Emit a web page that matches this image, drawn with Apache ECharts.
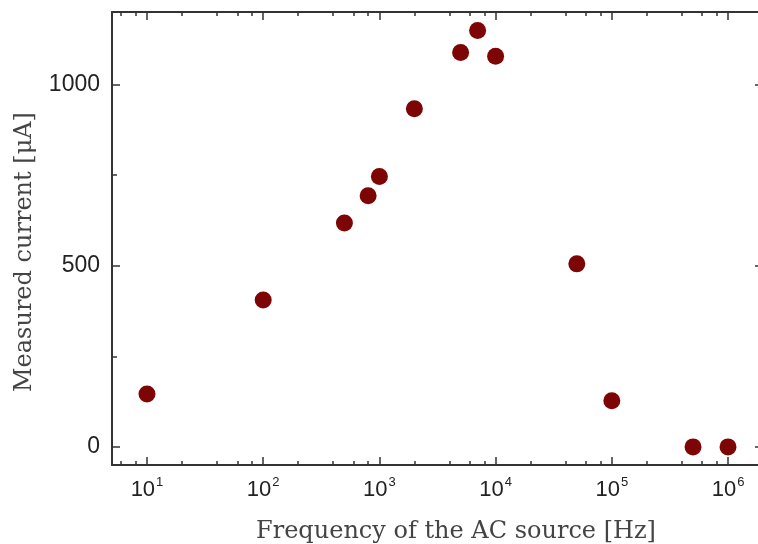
<!DOCTYPE html>
<html>
<head>
<meta charset="utf-8">
<script src="https://cdn.jsdelivr.net/npm/echarts@6/dist/echarts.min.js"></script>
<style>html,body{margin:0;padding:0;background:#fff;}#c{width:758px;height:544px;}</style>
</head>
<body>
<div id="c"></div>
<script>
// Data
var frequencyHz = [10, 100, 500, 800, 1000, 2000, 5000, 7000, 10000, 50000, 100000, 500000, 1000000];
var currentUA   = [146, 405, 618, 693, 746, 933, 1088, 1149, 1078, 505, 127, 0, 0];
var xMajorTicks = [10, 100, 1000, 10000, 100000, 1000000];
var xMinorTicks = [6, 8, 20, 40, 60, 80, 200, 400, 600, 800, 2000, 4000, 6000, 8000,
                   20000, 40000, 60000, 80000, 200000, 400000, 600000, 800000, 2000000];
var yMajorTicks = [0, 500, 1000];
var yMinorTicks = [250, 750];
var xTitle = 'Frequency of the AC source [Hz]';
var yTitle = 'Measured current [\u03bcA]';

var points = frequencyHz.map(function (f, i) { return [f, currentUA[i]]; });

var axisColor = '#333';
function xAxisDef(pos, ticks, len, withLabels) {
  var a = {
    type: 'log', logBase: 10, min: 5, max: 2000000, position: pos, gridIndex: 0,
    axisLine: { show: withLabels !== null, onZero: false, lineStyle: { color: axisColor, width: 2 } },
    axisTick: { show: true, inside: true, length: len, customValues: ticks, lineStyle: { color: axisColor, width: 1.5 } },
    splitLine: { show: false },
    axisLabel: { show: false }
  };
  if (withLabels) {
    a.axisLabel = {
      show: true, customValues: ticks, margin: 10,
      formatter: function (v) {
        var n = Math.round(Math.log10(v));
        return '{b|10}{s|' + n + '}';
      },
      rich: {
        b: { fontFamily: 'Liberation Sans', fontSize: 22, lineHeight: 26, color: '#222', verticalAlign: 'bottom' },
        s: { fontFamily: 'Liberation Sans', fontSize: 13, lineHeight: 14, color: '#222', verticalAlign: 'top', padding: [1, 0, 0, 1] }
      }
    };
    a.name = xTitle;
    a.nameLocation = 'middle';
    a.nameGap = 55;
    a.nameTextStyle = { fontFamily: 'DejaVu Serif', fontSize: 24, color: '#444', padding: [0, 0, 0, 37] };
  }
  return a;
}
function yAxisDef(pos, ticks, len, withLabels) {
  var a = {
    type: 'value', min: -50, max: 1200, position: pos, gridIndex: 0,
    axisLine: { show: withLabels !== null, onZero: false, lineStyle: { color: axisColor, width: 2 } },
    axisTick: { show: true, inside: true, length: len, customValues: ticks, lineStyle: { color: axisColor, width: 1.5 } },
    splitLine: { show: false },
    axisLabel: { show: false }
  };
  if (withLabels) {
    a.axisLabel = {
      show: true, customValues: ticks, margin: 12,
      formatter: function (v) { return String(v); },
      fontFamily: 'Liberation Sans', fontSize: 23, color: '#222'
    };
    a.name = yTitle;
    a.nameLocation = 'middle';
    a.nameGap = 75;
    a.nameTextStyle = { fontFamily: 'DejaVu Serif', fontSize: 24, color: '#444', padding: [0, 27, 0, 0] };
  }
  return a;
}

var chart = echarts.init(document.getElementById('c'), null, { renderer: 'canvas' });
chart.setOption({
  animation: false,
  backgroundColor: '#fff',
  grid: { left: 112, top: 12, width: 651, height: 453, show: false, containLabel: false, outerBoundsMode: 'none' },
  xAxis: [
    xAxisDef('bottom', xMajorTicks, 8, true),
    xAxisDef('bottom', xMinorTicks, 4, null),
    xAxisDef('top', xMajorTicks, 8, false),
    xAxisDef('top', xMinorTicks, 4, null)
  ],
  yAxis: [
    yAxisDef('left', yMajorTicks, 8, true),
    yAxisDef('left', yMinorTicks, 5, null),
    yAxisDef('right', yMajorTicks, 8, false),
    yAxisDef('right', yMinorTicks, 5, null)
  ],
  series: [{
    type: 'scatter',
    xAxisIndex: 0, yAxisIndex: 0,
    data: points,
    symbol: 'circle',
    symbolSize: 17,
    itemStyle: { color: '#7d0505', opacity: 1 }
  }]
});
</script>
</body>
</html>
